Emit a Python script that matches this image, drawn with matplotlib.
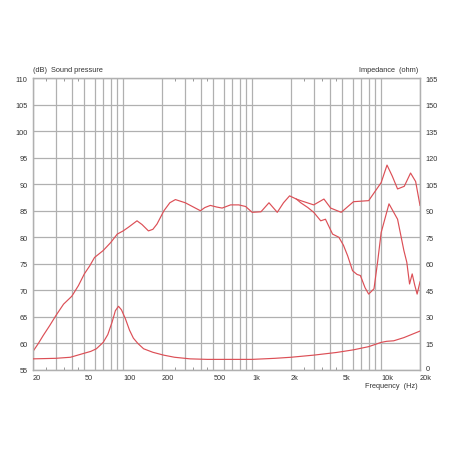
import matplotlib
matplotlib.use("Agg")
import matplotlib.pyplot as plt
import matplotlib.transforms as mtransforms
from matplotlib.ticker import FixedLocator, NullFormatter

# ---- data ----
spl_freq = [20, 22, 24, 27, 30, 34.5, 40, 45, 50, 55, 60, 70, 80, 90, 100, 110, 128, 140, 157, 170,
            183, 207, 230, 254, 303, 350, 397, 430, 474, 530, 585, 680, 787, 889, 1000, 1170, 1350,
            1565, 1750, 1950, 2200, 2380, 3000, 3600, 4060, 4900, 6100, 8000, 10000, 11100, 12200,
            13400, 15100, 16900, 18500, 20000]
spl_db = [58.5, 60.0, 61.5, 63.4, 65.2, 67.4, 68.9, 70.9, 73.1, 74.6, 76.2, 77.5, 79.0, 80.6, 81.2,
          81.9, 83.1, 82.4, 81.2, 81.5, 82.5, 85.0, 86.5, 87.1, 86.5, 85.7, 85.0, 85.6, 86.0, 85.7,
          85.5, 86.1, 86.1, 85.8, 84.7, 84.8, 86.5, 84.7, 86.5, 87.8, 87.2, 86.9, 86.1, 87.2, 85.5,
          84.7, 86.7, 86.9, 90.3, 93.6, 91.5, 89.1, 89.6, 92.1, 90.5, 86.0]

spl2_freq = [2200, 2380, 2700, 3000, 3400, 3700, 4200, 4700, 5100, 5500, 6000, 6500, 6900, 7500,
             8000, 8800, 9400, 10000, 11500, 13400, 15000, 15800, 16600, 17400, 18200, 19000, 20000]
spl2_db = [87.2, 86.5, 85.6, 84.7, 83.1, 83.4, 80.6, 80.0, 78.5, 76.5, 73.7, 73.0, 72.8, 70.5,
           69.3, 70.3, 75.5, 80.9, 86.3, 83.4, 77.5, 75.3, 71.2, 73.1, 71.0, 69.3, 71.6]

imp_freq = [20, 30, 39, 49, 56, 62, 70, 76, 82, 87, 92, 97, 104, 112, 120, 130, 144, 170, 206, 250,
            330, 450, 680, 1000, 1500, 2000, 3000, 4500, 6100, 8000, 10000, 11000, 12500, 15000, 20000]
imp_ohm = [6.3, 6.6, 7.2, 9.3, 10.5, 12.0, 15.6, 20.0, 27.0, 33.5, 36.0, 34.0, 29.0, 22.5, 18.0,
           15.0, 12.0, 10.0, 8.4, 7.2, 6.3, 6.0, 6.0, 6.0, 6.6, 7.2, 8.4, 9.9, 11.4, 13.2, 15.6,
           16.2, 16.5, 18.3, 22.0]

x_ticks = [20, 50, 100, 200, 500, 1000, 2000, 5000, 10000, 20000]
x_labels = ["20", "50", "100", "200", "500", "1k", "2k", "5k", "10k", "20k"]
db_ticks = [55, 60, 65, 70, 75, 80, 85, 90, 95, 100, 105, 110]
ohm_ticks = [0, 15, 30, 45, 60, 75, 90, 105, 120, 135, 150, 165]

grid_freqs = [20, 30, 40, 50, 60, 70, 80, 90, 100, 200, 300, 400, 500, 600, 700, 800, 900,
              1000, 2000, 3000, 4000, 5000, 6000, 7000, 8000, 9000, 10000, 20000]
minor_freqs = [25, 35, 45, 250, 350, 450, 2500, 3500, 4500]

plt.rcParams['font.family'] = ['Liberation Sans', 'DejaVu Sans']

W = 452
fig = plt.figure(figsize=(W / 100, W / 100), dpi=100)
ax = fig.add_axes([33 / W, 1 - 371 / W, 387 / W, 292 / W])
ax.set_xscale('log')
ax.set_xlim(20, 20000)
ax.set_ylim(55, 110)

line_col = '#dc4f56'
grid_col = '#b0b0b0'

for f in grid_freqs:
    ax.axvline(f, color=grid_col, lw=0.9, zorder=1)
for d in db_ticks:
    ax.axhline(d, color=grid_col, lw=0.9, zorder=1)

ax.plot(spl_freq, spl_db, color=line_col, lw=0.85, zorder=3)
ax.plot(spl2_freq, spl2_db, color=line_col, lw=0.85, zorder=3)

ax2 = ax.twinx()
ax2.set_ylim(0, 165)
ax2.plot(imp_freq, imp_ohm, color=line_col, lw=0.85, zorder=3)
ax2.set_xlim(20, 20000)

for a in (ax, ax2):
    for s in a.spines.values():
        s.set_color(grid_col)
        s.set_linewidth(0.9)

ax.xaxis.set_major_locator(FixedLocator(x_ticks))
ax.set_xticklabels(x_labels)
ax.xaxis.set_minor_locator(FixedLocator(minor_freqs))
ax.xaxis.set_minor_formatter(NullFormatter())
ax.tick_params(axis='x', which='major', length=0, labelsize=5.3, pad=3, colors='#333333')
ax.tick_params(axis='x', which='minor', length=2, direction='in', top=True, bottom=True, color='#888888')
for lab in ax.get_xticklabels():
    lab.set_horizontalalignment('left')

ax.set_yticks(db_ticks)
ax.tick_params(axis='y', length=0, labelsize=5.3, pad=4, colors='#333333')
ax2.set_yticks(ohm_ticks)
ax2.tick_params(axis='y', length=0, labelsize=5.3, pad=4, colors='#333333')

# lift the "0" impedance label slightly so it clears the "20k" label below it
fig.canvas.draw()
zero_lab = ax2.get_yticklabels()[0]
zero_lab.set_transform(zero_lab.get_transform() + mtransforms.ScaledTranslation(0, 2.5 / 100, fig.dpi_scale_trans))

fig.text(33 / W, 1 - 70 / W, "(dB)  Sound pressure", fontsize=5.3, color='#333333', va='center', ha='left')
fig.text(418 / W, 1 - 70 / W, "Impedance  (ohm)", fontsize=5.3, color='#333333', va='center', ha='right')
fig.text(418 / W, 1 - 387 / W, "Frequency  (Hz)", fontsize=5.3, color='#333333', va='center', ha='right')

fig.savefig("out.png", dpi=100)
